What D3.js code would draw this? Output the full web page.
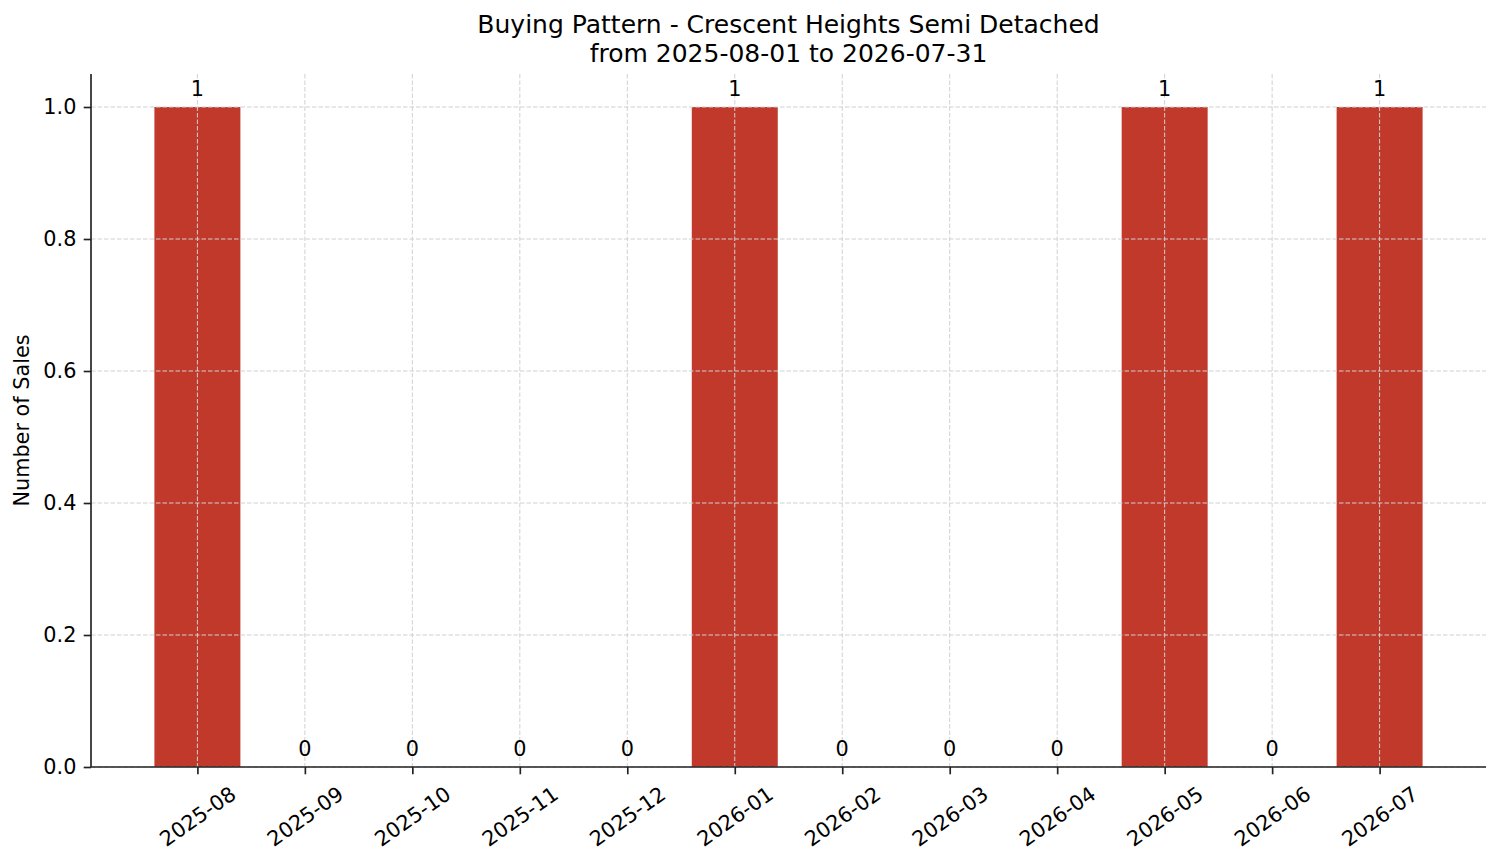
<!DOCTYPE html>
<html><head><meta charset="utf-8">
<script src="https://cdn.jsdelivr.net/npm/d3@7"></script>
<style>
html,body{margin:0;padding:0;background:#fff;}
text{font-family:"DejaVu Sans",sans-serif;fill:#000;}
</style></head>
<body>
<svg id="chart" width="1501" height="863"></svg>
<script>
const months = ["2025-08","2025-09","2025-10","2025-11","2025-12","2026-01","2026-02","2026-03","2026-04","2026-05","2026-06","2026-07"];
const sales = [1,0,0,0,0,1,0,0,0,1,0,1];
const yTicks = [0,0.2,0.4,0.6,0.8,1.0];
const titleLines = ["Buying Pattern - Crescent Heights Semi Detached","from 2025-08-01 to 2026-07-31"];
const yLabel = "Number of Sales";

const W = 1501, H = 863;
const m = {left:91, right:1486, top:74, bottom:767};
const svg = d3.select("#chart");

const n = months.length;
const x = d3.scaleLinear().domain([-0.99, n - 1 + 0.99]).range([m.left, m.right]);
const y = d3.scaleLinear().domain([0, 1.05]).range([m.bottom, m.top]);
const barW = x(0.8) - x(0);

const tickFont = 20.8;
const gridColor = "#d0d0d0";

// bars
svg.append("g").selectAll("rect").data(sales).join("rect")
  .attr("x", (d,i) => x(i) - barW/2)
  .attr("y", d => y(d))
  .attr("width", barW)
  .attr("height", d => y(0) - y(d))
  .attr("fill", "#c0392b");

// grid (drawn above bars)
const grid = svg.append("g");
yTicks.forEach(t => {
  grid.append("line").attr("x1", m.left).attr("x2", m.right)
    .attr("y1", y(t)).attr("y2", y(t))
    .attr("stroke", gridColor).attr("stroke-width", 1).attr("stroke-dasharray", "4.5,2");
});
months.forEach((mo,i) => {
  grid.append("line").attr("x1", x(i)).attr("x2", x(i))
    .attr("y1", m.top).attr("y2", m.bottom)
    .attr("stroke", gridColor).attr("stroke-width", 1).attr("stroke-dasharray", "4.5,2");
});

// value labels
svg.append("g").selectAll("text").data(sales).join("text")
  .attr("x", (d,i) => x(i))
  .attr("y", d => y(d + 0.01) - 4.9)
  .attr("text-anchor", "middle")
  .attr("font-size", tickFont)
  .text(d => d);

// y axis
const yAxis = d3.axisLeft(y).tickValues(yTicks).tickFormat(d3.format(".1f"))
  .tickSize(7.3).tickPadding(7.3);
const gy = svg.append("g").attr("transform", `translate(${m.left},0)`).call(yAxis);
gy.select(".domain").remove();
gy.selectAll(".tick line").attr("stroke", "#222").attr("stroke-width", 1.67);
gy.selectAll(".tick text").attr("font-size", tickFont).attr("font-family", "DejaVu Sans").attr("fill", "#000");

// x axis
const xAxis = d3.axisBottom(x).tickValues(d3.range(n)).tickFormat(i => months[i])
  .tickSize(7.3).tickPadding(7.3);
const gx = svg.append("g").attr("transform", `translate(0,${m.bottom})`).call(xAxis);
gx.select(".domain").remove();
gx.selectAll(".tick line").attr("stroke", "#222").attr("stroke-width", 1.67);
const ang = 35 * Math.PI / 180;
gx.selectAll(".tick text")
  .attr("font-size", tickFont).attr("font-family", "DejaVu Sans").attr("fill", "#000")
  .attr("dy", null)
  .each(function(){
    const t = d3.select(this);
    const w = this.getComputedTextLength();
    const h = tickFont * 1.17;
    const bh = w * Math.sin(ang) + h * Math.cos(ang);
    t.attr("y", null)
     .attr("text-anchor", "middle")
     .attr("dominant-baseline", "central")
     .attr("transform", `translate(0,${14.6 + bh/2}) rotate(-35)`);
  });

// spines
svg.append("line").attr("x1", m.left).attr("x2", m.left).attr("y1", m.top).attr("y2", m.bottom)
  .attr("stroke", "#222").attr("stroke-width", 1.67);
svg.append("line").attr("x1", m.left).attr("x2", m.right).attr("y1", m.bottom).attr("y2", m.bottom)
  .attr("stroke", "#222").attr("stroke-width", 1.67);

// y label
svg.append("text")
  .attr("transform", `translate(29,${(m.top + m.bottom)/2}) rotate(-90)`)
  .attr("text-anchor", "middle")
  .attr("font-size", 20.8)
  .text(yLabel);

// title
const cx = (m.left + m.right) / 2;
titleLines.forEach((s, i) => {
  svg.append("text").attr("x", cx).attr("y", 33 + i * 29)
    .attr("text-anchor", "middle").attr("font-size", 25).text(s);
});
</script>
</body></html>
